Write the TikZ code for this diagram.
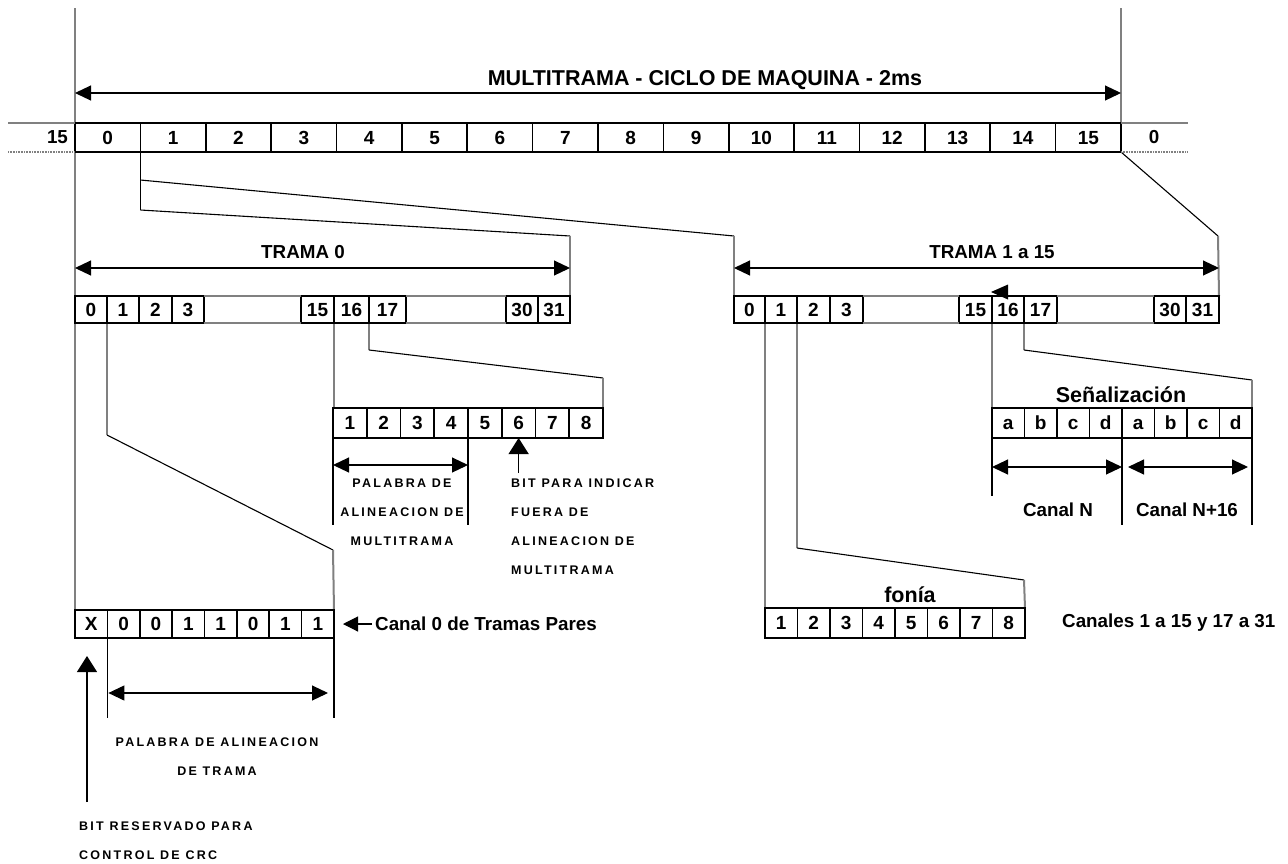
\documentclass[tikz,border=0pt]{standalone}
\usepackage{fontspec}
\setmainfont{Liberation Sans}
\newfontfamily\spacedfont[LetterSpace=18]{Liberation Sans}
\usetikzlibrary{arrows.meta}
\pgfdeclarelayer{bg}
\pgfsetlayers{bg,main}

\begin{document}
\begin{tikzpicture}[x=1pt,y=-1pt,
  cell/.style={draw=black,line width=1.6pt,inner sep=0pt,outer sep=0pt,
    text height=13.5pt,text depth=0pt,
    font={\fontsize{19}{20}\selectfont\bfseries}},
  lbl/.style={inner sep=0pt,font={\fontsize{18.8}{20}\selectfont\bfseries}},
  head/.style={inner sep=0pt,font={\fontsize{21.5}{24}\selectfont\bfseries}},
  note/.style={inner sep=0pt,font={\spacedfont\bfseries\fontsize{12.5}{29}\selectfont}},
  gapline/.style={draw=gray,line width=1.8pt},
  guide/.style={draw=gray,line width=2pt},
  link/.style={draw=black,line width=1.1pt},
  dim/.style={draw=black,line width=1.1pt,
    {Triangle[length=16pt,width=15pt]}-{Triangle[length=16pt,width=15pt]}},
  uparrow/.style={draw=black,line width=1.1pt,-{Triangle[length=16pt,width=20pt]}},
  ptr/.style={draw=black,line width=1.1pt,-{Triangle[length=15pt,width=15pt]}},
]
\useasboundingbox (0,0) rectangle (1288,863);

% ---------- multiframe: 16 frames ----------
\foreach \i in {0,...,15}
  \node[cell,minimum width=65.375pt,minimum height=29pt] (m\i) at ({75+65.375*\i+32.6875},137.5) {\i};
\node[lbl] (mprev) at (57.5,137.5) {15};
\node[lbl] (mnext) at (1154,137.5) {0};
\draw[gapline] (8,123) -- (m0.north west);
\draw[draw=gray,line width=1.6pt,dash pattern=on 1pt off 0.6pt] (8,152) -- (m0.south west);
\draw[gapline] (m15.north east) -- (1188,123);
\draw[draw=gray,line width=1.6pt,dash pattern=on 1pt off 0.6pt] (m15.south east) -- (1188,152);

\draw[dim] ([yshift=30pt]m0.north west) -- ([yshift=30pt]m15.north east);
\node[head] (title) at (705,80) {MULTITRAMA - CICLO DE MAQUINA - 2ms};

% ---------- frame 0 ----------
\foreach \a/\b/\l in {75/107/0,107/139/1,139/172/2,172/204/3,301/334/15,334/369/16,369/406/17,506/538/30,538/570/31}
  \node[cell,minimum width={(\b-\a)*1pt},minimum height=27pt] (tA\l) at ({(\a+\b)/2},309.5) {\l};
\draw[gapline] (tA3.north east) -- (tA15.north west);
\draw[gapline] (tA3.south east) -- (tA15.south west);
\draw[gapline] (tA17.north east) -- (tA30.north west);
\draw[gapline] (tA17.south east) -- (tA30.south west);
\draw[dim] ([yshift=28pt]tA0.north west) -- ([yshift=28pt]tA31.north east);
\node[lbl] (tramaA) at (303,252) {TRAMA 0};

% ---------- frames 1 to 15 ----------
\foreach \a/\b/\l in {734/765/0,765/797/1,797/830/2,830/863/3,959/992/15,992/1024/16,1024/1057/17,1154/1186/30,1186/1219/31}
  \node[cell,minimum width={(\b-\a)*1pt},minimum height=27pt] (tB\l) at ({(\a+\b)/2},309.5) {\l};
\draw[gapline] (tB3.north east) -- (tB15.north west);
\draw[gapline] (tB3.south east) -- (tB15.south west);
\draw[gapline] (tB17.north east) -- (tB30.north west);
\draw[gapline] (tB17.south east) -- (tB30.south west);
\draw[dim] ([yshift=28pt]tB0.north west) -- ([yshift=28pt]tB31.north east);
\node[lbl] (tramaB) at (992,252) {TRAMA 1 a 15};
\fill (991,292) -- (1008,284.5) -- (1008,299.5) -- cycle;

% ---------- multiframe alignment word (slot 16 of frame 0) ----------
\foreach \i in {1,...,8}
  \node[cell,minimum width=33.75pt,minimum height=30pt] (pa\i) at ({333+33.75*(\i-0.5)},423) {\i};
\draw[link] (pa1.south west) -- ++(0,87);
\draw[link] (pa4.south east) -- ++(0,87);
\draw[dim] ([yshift=-27pt]pa1.south west) -- ([yshift=-27pt]pa4.south east);
\draw[uparrow] ([yshift=-35pt]pa6.south) -- (pa6.south);
\node[note,anchor=north,align=center] (palabraM) at (402,478.5) {PALABRA DE\\ALINEACION DE\\MULTITRAMA};
\node[note,anchor=north west,align=left] (bitM) at (511,478.5) {BIT PARA INDICAR\\FUERA DE\\ALINEACION DE\\MULTITRAMA};

% ---------- frame alignment word (slot 0, even frames) ----------
\foreach \i/\l in {1/X,2/0,3/0,4/1,5/1,6/0,7/1,8/1}
  \node[cell,minimum width=32.375pt,minimum height=28pt] (x\i) at ({75+32.375*(\i-0.5)},624) {\l};
\draw[ptr] ([xshift=38pt]x8.east) -- ([xshift=9pt]x8.east);
\node[lbl,anchor=west] (canal0) at (375,624) {Canal 0 de Tramas Pares};
\draw[link] (x2.south west) -- ++(0,80);
\draw[link] (x8.south east) -- ++(0,80);
\draw[dim] ([yshift=-55pt,xshift=1pt]x2.south west) -- ([yshift=-55pt,xshift=-6pt]x8.south east);
\coordinate (crcTail) at (87,802);
\draw[uparrow] (crcTail) -- (87,656);
\node[note,anchor=north,align=center] (palabraT) at (217,737.5) {PALABRA DE ALINEACION\\DE TRAMA};
\node[note,anchor=north west,align=left] (crcNote) at (79,821.5) {BIT RESERVADO PARA\\CONTROL DE CRC};

% ---------- signalling (slot 16 of frames 1-15) ----------
\foreach \i/\l in {1/a,2/b,3/c,4/d,5/a,6/b,7/c,8/d}
  \node[cell,minimum width=32.5pt,minimum height=30pt] (s\i) at ({992+32.5*(\i-0.5)},423) {\l};
\node[head] (senal) at (1121,395) {Señalización};
\draw[link] (s1.south west) -- ++(0,58);
\draw[link] (s4.south east) -- ++(0,87);
\draw[link] (s8.south east) -- ++(0,87);
\draw[dim] ([yshift=-29pt]s1.south west) -- ([yshift=-29pt]s4.south east);
\draw[dim] ([yshift=-29pt,xshift=6pt]s5.south west) -- ([yshift=-29pt,xshift=-4pt]s8.south east);
\node[lbl] (canalN) at (1058,510) {Canal N};
\node[lbl] (canalN16) at (1187,510) {Canal N+16};

% ---------- voice channel ----------
\foreach \i in {1,...,8}
  \node[cell,minimum width=32.5pt,minimum height=30pt] (f\i) at ({765+32.5*(\i-0.5)},623) {\i};
\node[head] (fonia) at (910,595) {fonía};
\node[lbl,anchor=west] (canales) at (1062,623) {Canales 1 a 15 y 17 a 31};

% ---------- guide lines and links between levels ----------
\begin{pgfonlayer}{bg}
  \coordinate (leftTop) at (75,8);
  \coordinate (rightTop) at (1121,8);
  \draw[guide] (leftTop) -- (x1.north west);
  \draw[guide] (rightTop) -- (m15.north east);
  % frame 1 of the multiframe fans out to both frame rows
  \draw[link] (m1.south west) -- ++(0,58) coordinate (k1);
  \coordinate (jA) at (570,236);
  \coordinate (jB) at (734,236);
  \coordinate (jC) at (1218,236);
  \draw[link] ([yshift=-28pt]m1.south west) -- (jB);
  \draw[link] (k1) -- (jA);
  \draw[link] (m15.south east) -- (jC);
  \draw[guide] (jA) -- (tA31.north east);
  \draw[guide] (jB) -- (tB0.north west);
  \draw[guide] (jC) -- (tB31.north east);
  % frame 0, slots 0 and 16
  \draw[guide] (tA1.south west) -- ++(0,112) coordinate (b1);
  \coordinate (c1) at (333,550);
  \draw[link] (b1) -- (c1);
  \draw[guide] (c1) -- (x8.north east);
  \draw[guide] (tA16.south west) -- (tA16.south west |- pa1.north west);
  \draw[guide] (tA17.south west) -- ++(0,27) coordinate (b17);
  \coordinate (c17) at (603,378);
  \draw[link] (b17) -- (c17);
  \draw[guide] (c17) -- (pa8.north east);
  % frames 1-15, voice slot and slot 16
  \draw[guide] (tB1.south west) -- (f1.north west);
  \draw[guide] (tB2.south west) -- ++(0,225) coordinate (b2r);
  \coordinate (c2r) at (1024,580);
  \draw[link] (b2r) -- (c2r);
  \draw[guide] (c2r) -- (f8.north east);
  \draw[guide] (tB16.south west) -- (s1.north west);
  \draw[guide] (tB17.south west) -- ++(0,27) coordinate (b17r);
  \coordinate (c17r) at (1252,380);
  \draw[link] (b17r) -- (c17r);
  \draw[guide] (c17r) -- (s8.north east);
\end{pgfonlayer}
\end{tikzpicture}
\end{document}
